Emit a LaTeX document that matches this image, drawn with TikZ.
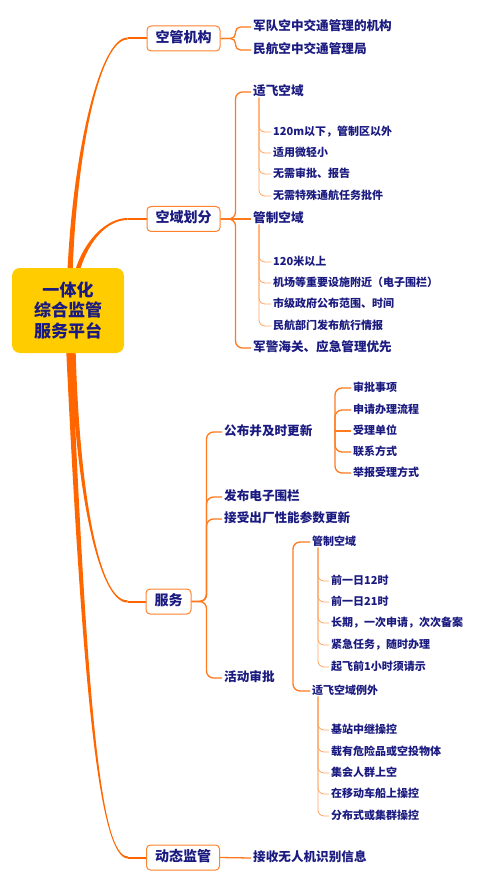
\documentclass[tikz,border=0pt]{standalone}
\usepackage{fontspec}
\setmainfont{Noto Sans CJK SC}
\usetikzlibrary{calc,backgrounds}
\definecolor{navy}{RGB}{26,26,128}
\definecolor{brorange}{RGB}{255,102,0}
\definecolor{boxorange}{RGB}{255,130,45}
\definecolor{lineorange}{RGB}{255,122,30}
\definecolor{lightorange}{RGB}{255,165,95}
\definecolor{centeryellow}{RGB}{255,204,0}
\begin{document}
\begin{tikzpicture}[x=1pt,y=-1pt,
  centerbox/.style={fill=centeryellow, rounded corners=8pt, minimum width=112pt, minimum height=85pt, align=center, inner sep=0pt,
    font=\fontsize{17}{20.5}\selectfont\bfseries, text=navy},
  topic/.style={draw=boxorange, line width=1pt, fill=white, rounded corners=4pt, minimum height=25pt, inner xsep=8.5pt, inner ysep=0pt,
    font=\fontsize{14}{16}\selectfont\bfseries, text=navy, text height=0.83em, text depth=0.07em},
  sub/.style={anchor=west, inner xsep=2pt, inner ysep=1pt, font=\fontsize{12.6}{15}\selectfont\bfseries, text=navy,
    text height=0.83em, text depth=0.07em},
  leaf/.style={sub, font=\fontsize{11}{13}\selectfont\bfseries},
  branch/.style={fill=brorange},
  branchend/.style={draw=brorange, line width=2pt},
  ltwo/.style={draw=lineorange, line width=1.3pt, rounded corners=7pt},
  lthree/.style={draw=lightorange, line width=0.8pt, rounded corners=6pt},
]
\useasboundingbox (0,0) rectangle (482,877);

% central node
\node[centerbox] (ctr) at (68,310.5) {一体化\\综合监管\\服务平台};

% main topics
\node[topic] (kg) at (183.5,38.5) {空管机构};
\node[topic] (ky) at (183.5,219) {空域划分};
\node[topic] (fw) at (168.5,601.5) {服务};
\node[topic] (dt) at (183,857.5) {动态监管};

% level 2
\node[sub] (jd) at (251,27) {军队空中交通管理的机构};
\node[sub] (mh) at (251,50) {民航空中交通管理局};
\node[sub] (sf) at (251,92) {适飞空域};
\node[sub] (gz) at (251,219) {管制空域};
\node[sub] (jj) at (251,348) {军警海关、应急管理优先};
\node[sub] (gb) at (222,432) {公布并及时更新};
\node[sub] (fb) at (222,497) {发布电子围栏};
\node[sub] (js) at (222,519) {接受出厂性能参数更新};
\node[sub] (hd) at (222,678) {活动审批};
\node[sub] (dtc) at (251,858) {接收无人机识别信息};

% level 3
\node[leaf] (a1) at (271,132) {120m以下，管制区以外};
\node[leaf] (a2) at (271,153) {适用微轻小};
\node[leaf] (a3) at (271,174) {无需审批、报告};
\node[leaf] (a4) at (271,196) {无需特殊通航任务批件};
\node[leaf] (b1) at (271,262) {120米以上};
\node[leaf] (b2) at (271,283) {机场等重要设施附近（电子围栏）};
\node[leaf] (b3) at (271,304) {市级政府公布范围、时间};
\node[leaf] (b4) at (271,326) {民航部门发布航行情报};
\node[leaf] (c1) at (351,388) {审批事项};
\node[leaf] (c2) at (351,410) {申请办理流程};
\node[leaf] (c3) at (351,431) {受理单位};
\node[leaf] (c4) at (351,452) {联系方式};
\node[leaf] (c5) at (351,473) {举报受理方式};
\node[leaf] (d1) at (310,542) {管制空域};
\node[leaf] (d2) at (310,691) {适飞空域例外};

% level 4
\node[leaf] (e1) at (329,581) {前一日12时};
\node[leaf] (e2) at (329,602) {前一日21时};
\node[leaf] (e3) at (329,623) {长期，一次申请，次次备案};
\node[leaf] (e4) at (329,645) {紧急任务，随时办理};
\node[leaf] (e5) at (329,667) {起飞前1小时须请示};
\node[leaf] (f1) at (329,730) {基站中继操控};
\node[leaf] (f2) at (329,752) {载有危险品或空投物体};
\node[leaf] (f3) at (329,773) {集会人群上空};
\node[leaf] (f4) at (329,794) {在移动车船上操控};
\node[leaf] (f5) at (329,816) {分布式或集群操控};

% junction coordinates
\coordinate (kgj) at ($(kg.east)+(15,0)$);
\coordinate (kyj) at ($(ky.east)+(15,0)$);
\coordinate (fwj) at ($(fw.east)+(15,0)$);
\coordinate (gbj) at (335,431);
\coordinate (hdj) at (293,616);

% main branches (tapered), behind the nodes
\begin{pgfonlayer}{background}
  \coordinate (s1) at (70,272);
  \coordinate (e1b) at ($(kg.west)+(-19,0)$);
  \fill[branch] ($(s1)+(-2.6,0)$) .. controls (73.2,150) and (100,37.5) .. ($(e1b)+(0,-1)$)
     -- ($(e1b)+(0,1)$) .. controls (100,39.5) and (76.8,150) .. ($(s1)+(2.6,0)$) -- cycle;
  \draw[branchend] (e1b) -- (kg.west);

  \coordinate (s2) at (77,272);
  \coordinate (e2b) at ($(ky.west)+(-19,0)$);
  \fill[branch] ($(s2)+(-2.4,0)$) .. controls (86,235) and (110,218) .. ($(e2b)+(0,-1)$)
     -- ($(e2b)+(0,1)$) .. controls (110,220) and (90,236) .. ($(s2)+(2.4,0)$) -- cycle;
  \draw[branchend] (e2b) -- (ky.west);

  \coordinate (s3) at (73,350);
  \coordinate (e3b) at ($(fw.west)+(-18,0)$);
  \fill[branch] ($(s3)+(-2.6,0)$) .. controls (76.2,500) and (100,603) .. ($(e3b)+(0,1)$)
     -- ($(e3b)+(0,-1)$) .. controls (100,601) and (79.8,500) .. ($(s3)+(2.6,0)$) -- cycle;
  \draw[branchend] (e3b) -- (fw.west);

  \coordinate (s4) at (69,350);
  \coordinate (e4b) at ($(dt.west)+(-18,0)$);
  \fill[branch] ($(s4)+(-2.8,0)$) .. controls (83,700) and (100,858.5) .. ($(e4b)+(0,1)$)
     -- ($(e4b)+(0,-1)$) .. controls (100,856.5) and (87,700) .. ($(s4)+(2.8,0)$) -- cycle;
  \draw[branchend] (e4b) -- (dt.west);
\end{pgfonlayer}

% topic -> level 2
\draw[ltwo,rounded corners=5pt] (kg.east) -- (kgj) |- (jd.west);
\draw[ltwo,rounded corners=5pt] (kg.east) -- (kgj) |- (mh.west);

\draw[ltwo] (ky.east) -- (kyj) |- (sf.west);
\draw[ltwo] (ky.east) -- (kyj) |- (jj.west);
\draw[ltwo] (ky.east) -- (gz.west);

\foreach \c in {gb,fb,js,hd} \draw[ltwo] (fw.east) -- (fwj) |- (\c.west);

\draw[ltwo] (dt.east) -- (dtc.west);

% level 2 -> level 3
\foreach \c in {a1,a2,a3,a4} \draw[lthree] ($(sf.south west)+(8,0)$) |- (\c.west);
\foreach \c in {b1,b2,b3,b4} \draw[lthree] ($(gz.south west)+(8,0)$) |- (\c.west);
\foreach \c in {c1,c2,c4,c5} \draw[ltwo] (gbj) |- (\c.west);
\draw[ltwo] (gbj) -- (c3.west);
\draw[ltwo] (hdj) |- (d1.west);
\draw[ltwo] (hdj) |- (d2.west);

% level 3 -> level 4
\foreach \c in {e1,e2,e3,e4,e5} \draw[lthree] ($(d1.south west)+(8,0)$) |- (\c.west);
\foreach \c in {f1,f2,f3,f4,f5} \draw[lthree] ($(d2.south west)+(8,0)$) |- (\c.west);
\end{tikzpicture}
\end{document}
